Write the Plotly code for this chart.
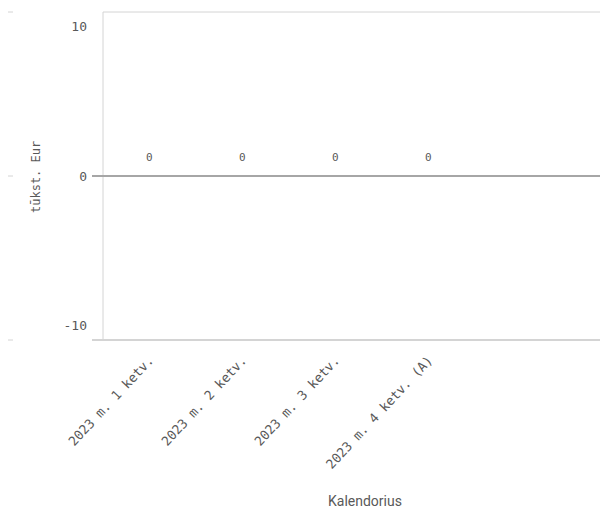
import plotly.graph_objects as go

categories = ["2023 m. 1 ketv.", "2023 m. 2 ketv.", "2023 m. 3 ketv.", "2023 m. 4 ketv. (A)"]
values = [0, 0, 0, 0]
y_ticks = [-10, 0, 10]
y_tick_labels = ["-10", "0", "10"]

OFF = 8  # page body margin
W, H = 608 - OFF, 515 - OFF
ML, MR, MT, MB = 103 - OFF, 0, 12 - OFF, 515 - 340
PW = W - ML - MR
PH = H - MT - MB

def px_x(p):
    return (p - OFF - ML) / PW

def px_y(p):
    return 1 - (p - OFF - MT) / PH

mono = "DejaVu Sans Mono"
grey = "#595959"

fig = go.Figure()
fig.add_trace(go.Bar(x=categories, y=values, marker_color="#4477aa",
                     hoverinfo="skip", showlegend=False))

for c, v in zip(categories, values):
    fig.add_annotation(x=c, y=v, text=str(v), showarrow=False, yshift=19,
                       font=dict(family=mono, size=11, color=grey))

shapes = []
line_light = dict(color="#d4d4d4", width=1)
shapes.append(dict(type="line", xref="paper", yref="paper", x0=0, x1=1, y0=1, y1=1, line=line_light))
shapes.append(dict(type="line", xref="paper", yref="paper", x0=0, x1=0, y0=0, y1=1, line=line_light))
shapes.append(dict(type="line", xref="paper", yref="paper", x0=px_x(92), x1=1, y0=0, y1=0,
                   line=dict(color="#d4d4d4", width=2)))
shapes.append(dict(type="line", xref="paper", yref="y", x0=px_x(92), x1=1, y0=0, y1=0,
                   line=dict(color="#a6a6a6", width=2)))
sx0, sx1 = px_x(OFF), px_x(OFF + 5)
shapes.append(dict(type="line", xref="paper", yref="paper", x0=sx0, x1=sx1, y0=1, y1=1, line=line_light))
shapes.append(dict(type="line", xref="paper", yref="y", x0=sx0, x1=sx1, y0=0, y1=0, line=line_light))
shapes.append(dict(type="line", xref="paper", yref="paper", x0=sx0, x1=sx1, y0=0, y1=0, line=line_light))

fig.update_layout(
    width=W, height=H,
    margin=dict(l=ML, r=MR, t=MT, b=MB, pad=0),
    plot_bgcolor="white", paper_bgcolor="white",
    shapes=shapes,
    xaxis=dict(range=[-0.5, 4.93], showgrid=False, zeroline=False, showline=False,
               tickangle=-47, ticks="", ticklabelstandoff=9,
               tickfont=dict(family=mono, size=13, color=grey), fixedrange=True),
    yaxis=dict(range=[-11, 11], tickvals=y_ticks, ticktext=y_tick_labels, showgrid=False,
               zeroline=False, showline=False, ticks="", ticklabelstandoff=15,
               tickfont=dict(family=mono, size=13, color=grey), fixedrange=True),
)

fig.add_annotation(text="tūkst. Eur", xref="paper", yref="paper", x=px_x(36), y=px_y(177),
                   xanchor="center", yanchor="middle",
                   textangle=-90, showarrow=False, font=dict(family=mono, size=12, color=grey))
fig.add_annotation(text="Kalendorius", xref="paper", yref="paper", x=px_x(365), y=px_y(501),
                   xanchor="center", yanchor="middle",
                   showarrow=False, font=dict(family="Roboto", size=14, color=grey))

fig.write_html("out.html")
